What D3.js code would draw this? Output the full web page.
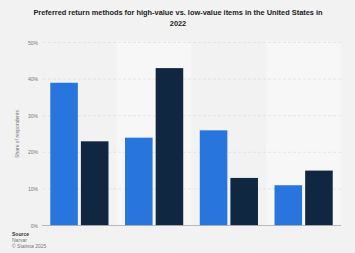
<html>
<script src="https://d3js.org/d3.v7.min.js"></script>
<style>
    body { margin: 0; background: #f2f2f2; }
    svg { display: block; font-family: "Liberation Sans", Arial, sans-serif; }
</style>
<body>
<svg width="355" height="253"></svg>
<script>
    // values (percent)
    var categories = ["Method 1", "Method 2", "Method 3", "Method 4"];
    var highValue = [39, 24, 26, 11];
    var lowValue = [23, 43, 13, 15];
    var yTicks = [0, 10, 20, 30, 40, 50];
    var titleLines = ["Preferred return methods for high-value vs. low-value items in the United States in", "2022"];
    var sourceLines = ["Source", "Narvar", "\u00a9 Statista 2025"];

    var svg = d3.select("svg");
    var plotLeft = 42, plotRight = 341, plotTop = 42.5, plotBottom = 225.5;

    var xs = d3.scaleBand().domain(categories).range([plotLeft, plotRight]);
    var ys = d3.scaleLinear().domain([0, 50]).range([plotBottom, plotTop]);

    // alternating band shading
    svg.append("g").selectAll("rect").data(categories).enter().append("rect")
        .attr("x", function (d) { return xs(d); })
        .attr("y", ys(50) - 1)
        .attr("width", xs.bandwidth())
        .attr("height", plotBottom - ys(50) + 1)
        .attr("fill", function (d, i) { return i % 2 ? "#f7f7f7" : "#f2f2f2"; });

    // gridlines
    svg.append("g").selectAll("line").data(yTicks.slice(1)).enter().append("line")
        .attr("x1", plotLeft + 1).attr("x2", plotRight)
        .attr("y1", function (d) { return ys(d); })
        .attr("y2", function (d) { return ys(d); })
        .attr("stroke", "#dadada")
        .attr("stroke-width", 0.6)
        .attr("stroke-dasharray", "3,2");

    // y axis labels
    var yAxis = svg.append("g")
        .attr("transform", "translate(" + plotLeft + ",0)")
        .call(d3.axisLeft(ys).tickValues(yTicks).tickFormat(function (d) { return d + "%"; }).tickSize(0).tickPadding(4));
    yAxis.select(".domain").remove();
    yAxis.selectAll("text").attr("fill", "#777").attr("font-size", 5);

    var inner = d3.scaleBand().domain(["high", "low"]).range([0, xs.bandwidth()]).paddingInner(0.1).paddingOuter(0.27);

    var g = svg.append("g");
    g.selectAll(".high").data(highValue).enter().append("rect")
        .attr("class", "high")
        .attr("x", function (d, i) { return xs(categories[i]) + inner("high"); })
        .attr("y", function (d) { return ys(d); })
        .attr("width", inner.bandwidth())
        .attr("height", function (d) { return plotBottom - ys(d); })
        .attr("fill", "#2876dd");
    g.selectAll(".low").data(lowValue).enter().append("rect")
        .attr("class", "low")
        .attr("x", function (d, i) { return xs(categories[i]) + inner("low"); })
        .attr("y", function (d) { return ys(d); })
        .attr("width", inner.bandwidth())
        .attr("height", function (d) { return plotBottom - ys(d); })
        .attr("fill", "#0f2740");

    // baseline
    svg.append("line")
        .attr("x1", plotLeft).attr("x2", plotRight)
        .attr("y1", plotBottom).attr("y2", plotBottom)
        .attr("stroke", "#aaa").attr("stroke-width", 0.8);

    // axis title
    svg.append("text")
        .attr("transform", "translate(19," + (ys(25)) + ") rotate(-90)")
        .attr("text-anchor", "middle")
        .attr("font-size", 5)
        .attr("fill", "#777")
        .text("Share of respondents");

    // title
    svg.append("g").selectAll("text").data(titleLines).enter().append("text")
        .attr("x", 178)
        .attr("y", function (d, i) { return 15 + i * 11; })
        .attr("text-anchor", "middle")
        .attr("font-size", 7.4)
        .attr("font-weight", "bold")
        .attr("fill", "#222")
        .text(function (d) { return d; });

    // source
    svg.append("g").selectAll("text").data(sourceLines).enter().append("text")
        .attr("x", 12)
        .attr("y", function (d, i) { return 236 + i * 6; })
        .attr("font-size", 5)
        .attr("font-weight", function (d, i) { return i == 0 ? "bold" : "normal"; })
        .attr("fill", function (d, i) { return i == 0 ? "#333" : "#777"; })
        .text(function (d) { return d; });
</script>
</body>
</html>
